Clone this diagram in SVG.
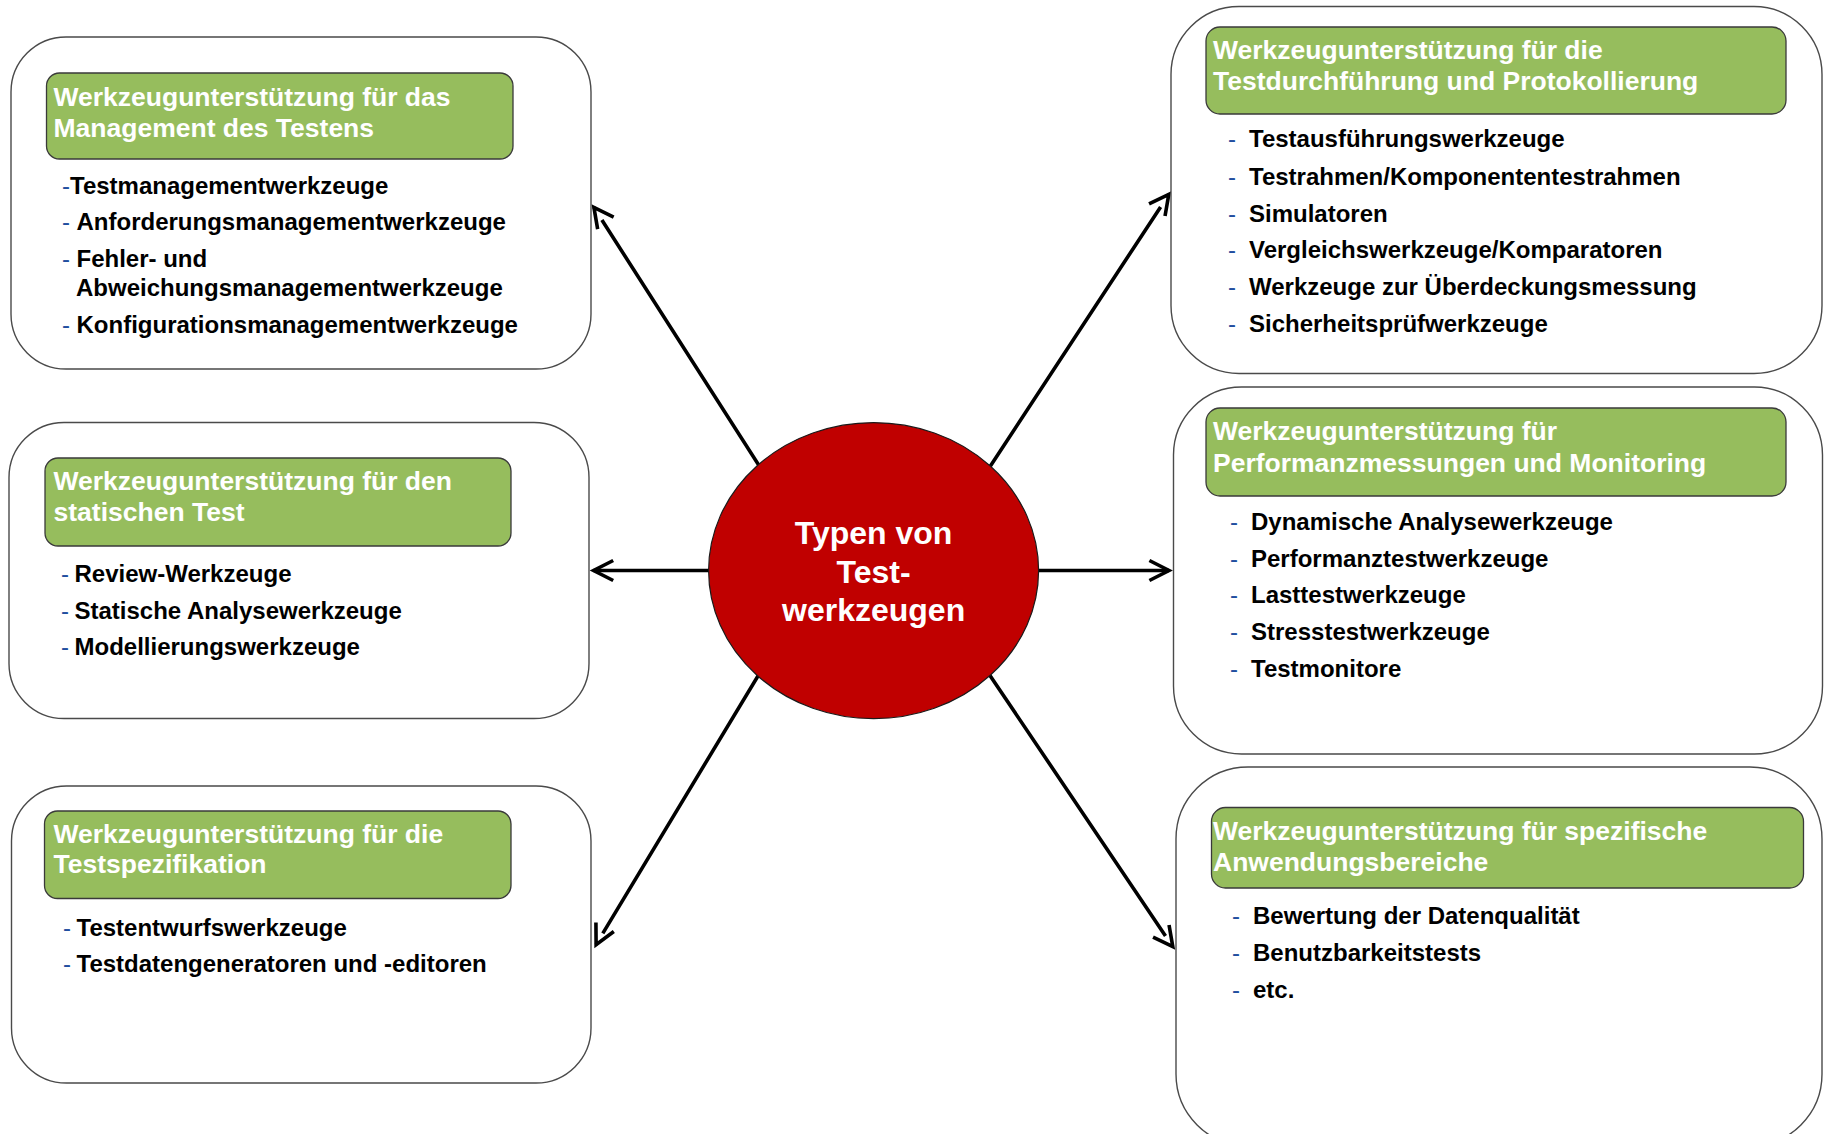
<svg xmlns="http://www.w3.org/2000/svg" width="1824" height="1134" viewBox="0 0 1824 1134">
<style>
.bg{fill:#fff}
.box{fill:#fff;stroke:#4a4a4a;stroke-width:1.4}
.hdr{fill:#96BD5D;stroke:#3a3a3a;stroke-width:1.3}
.ht{font-family:"Liberation Sans",Arial,sans-serif;font-weight:bold;font-size:26.5px;fill:#fff}
.it{font-family:"Liberation Sans",Arial,sans-serif;font-weight:bold;font-size:24px;fill:#000}
.ds{font-family:"Liberation Sans",Arial,sans-serif;font-size:24px;fill:#1F4FA0}
.ct{font-family:"Liberation Sans",Arial,sans-serif;font-weight:bold;font-size:32px;fill:#fff;text-anchor:middle}
.con{fill:none;stroke:#000;stroke-width:3.6;marker-end:url(#open)}
.hub{fill:#C00000;stroke:#1a1a1a;stroke-width:1.2}
</style>
<defs>
<marker id="open" markerUnits="userSpaceOnUse" viewBox="-26 -13 28 26" refX="0" refY="0" markerWidth="28" markerHeight="26" orient="auto" overflow="visible">
<path d="M-19.6,-10 L0,0 L-19.6,10" fill="none" stroke="#000" stroke-width="3.6" stroke-linejoin="miter" stroke-miterlimit="10"/>
</marker>
</defs>
<rect class="bg" x="0" y="0" width="1824" height="1134"/>

<!-- connectors from the hub to the six categories -->
<g id="connectors">
<path class="con" d="M762.7,471.4 L601.9,220 M594.2,207.8 L593.9,207.4"/>
<path class="con" d="M718,570.5 L593.6,570.5"/>
<path class="con" d="M762.5,668.4 L602.8,933.4 M596.3,944.2 L596.1,944.6"/>
<path class="con" d="M985.5,473.4 L1160.6,206.9 M1168.5,194.7 L1168.8,194.3"/>
<path class="con" d="M1029,570.5 L1169,570.5"/>
<path class="con" d="M985.4,668.7 L1165.5,935.9 M1172.5,946.3 L1172.8,946.7"/>
</g>

<g id="hub">
<ellipse class="hub" cx="873.6" cy="570.6" rx="165" ry="148"/>
<text class="ct" x="873.6" y="544">Typen von</text>
<text class="ct" x="873.6" y="582.5">Test-</text>
<text class="ct" x="873.6" y="620.5">werkzeugen</text>
</g>

<g id="management">
<rect class="box" x="11" y="37" width="580" height="332" rx="55"/>
<rect class="hdr" x="46.5" y="73" width="466.5" height="86" rx="13"/>
<text class="ht" x="53.5" y="106">Werkzeugunterstützung für das</text>
<text class="ht" x="53.5" y="137">Management des Testens</text>
<text class="ds" x="62" y="194">-</text><text class="it" x="70" y="194">Testmanagementwerkzeuge</text>
<text class="ds" x="62" y="230">-</text><text class="it" x="76.5" y="230">Anforderungsmanagementwerkzeuge</text>
<text class="ds" x="62" y="267">-</text><text class="it" x="76.5" y="267">Fehler- und</text>
<text class="it" x="76" y="295.5">Abweichungsmanagementwerkzeuge</text>
<text class="ds" x="62" y="332.5">-</text><text class="it" x="76.5" y="332.5">Konfigurationsmanagementwerkzeuge</text>
</g>

<g id="static-test">
<rect class="box" x="9" y="422.5" width="580" height="296" rx="55"/>
<rect class="hdr" x="45" y="458" width="466" height="88" rx="13"/>
<text class="ht" x="53.5" y="490">Werkzeugunterstützung für den</text>
<text class="ht" x="53.5" y="521">statischen Test</text>
<text class="ds" x="61" y="582">-</text><text class="it" x="74.5" y="582">Review-Werkzeuge</text>
<text class="ds" x="61" y="618.5">-</text><text class="it" x="74.5" y="618.5">Statische Analysewerkzeuge</text>
<text class="ds" x="61" y="655">-</text><text class="it" x="74.5" y="655">Modellierungswerkzeuge</text>
</g>

<g id="test-specification">
<rect class="box" x="11.5" y="786" width="579.5" height="297" rx="55"/>
<rect class="hdr" x="44.5" y="811" width="466.5" height="87.5" rx="13"/>
<text class="ht" x="53.5" y="842.5">Werkzeugunterstützung für die</text>
<text class="ht" x="53.5" y="873">Testspezifikation</text>
<text class="ds" x="63" y="935.5">-</text><text class="it" x="76.5" y="935.5">Testentwurfswerkzeuge</text>
<text class="ds" x="63" y="972">-</text><text class="it" x="76.5" y="972">Testdatengeneratoren und -editoren</text>
</g>

<g id="execution-logging">
<rect class="box" x="1171" y="6.5" width="651" height="367" rx="68"/>
<rect class="hdr" x="1206" y="27" width="580" height="87" rx="14"/>
<text class="ht" x="1213" y="58.5">Werkzeugunterstützung für die</text>
<text class="ht" x="1213" y="90">Testdurchführung und Protokollierung</text>
<text class="ds" x="1228" y="147">-</text><text class="it" x="1249" y="147">Testausführungswerkzeuge</text>
<text class="ds" x="1228" y="184.5">-</text><text class="it" x="1249" y="184.5">Testrahmen/Komponententestrahmen</text>
<text class="ds" x="1228" y="221.5">-</text><text class="it" x="1249" y="221.5">Simulatoren</text>
<text class="ds" x="1228" y="258">-</text><text class="it" x="1249" y="258">Vergleichswerkzeuge/Komparatoren</text>
<text class="ds" x="1228" y="295">-</text><text class="it" x="1249" y="295">Werkzeuge zur Überdeckungsmessung</text>
<text class="ds" x="1228" y="331.5">-</text><text class="it" x="1249" y="331.5">Sicherheitsprüfwerkzeuge</text>
</g>

<g id="performance-monitoring">
<rect class="box" x="1173.5" y="387" width="649" height="367" rx="68"/>
<rect class="hdr" x="1206" y="408" width="580" height="88" rx="14"/>
<text class="ht" x="1213" y="440">Werkzeugunterstützung für</text>
<text class="ht" x="1213" y="472">Performanzmessungen und Monitoring</text>
<text class="ds" x="1230" y="529.5">-</text><text class="it" x="1251" y="529.5">Dynamische Analysewerkzeuge</text>
<text class="ds" x="1230" y="566.5">-</text><text class="it" x="1251" y="566.5">Performanztestwerkzeuge</text>
<text class="ds" x="1230" y="603">-</text><text class="it" x="1251" y="603">Lasttestwerkzeuge</text>
<text class="ds" x="1230" y="640">-</text><text class="it" x="1251" y="640">Stresstestwerkzeuge</text>
<text class="ds" x="1230" y="676.5">-</text><text class="it" x="1251" y="676.5">Testmonitore</text>
</g>

<g id="specific-domains">
<rect class="box" x="1176" y="767" width="646" height="379" rx="72"/>
<rect class="hdr" x="1211.5" y="807.5" width="592" height="80.5" rx="14"/>
<text class="ht" x="1213" y="840">Werkzeugunterstützung für spezifische</text>
<text class="ht" x="1213" y="871">Anwendungsbereiche</text>
<text class="ds" x="1232" y="924">-</text><text class="it" x="1253" y="924">Bewertung der Datenqualität</text>
<text class="ds" x="1232" y="961">-</text><text class="it" x="1253" y="961">Benutzbarkeitstests</text>
<text class="ds" x="1232" y="998">-</text><text class="it" x="1253" y="998">etc.</text>
</g>
</svg>
